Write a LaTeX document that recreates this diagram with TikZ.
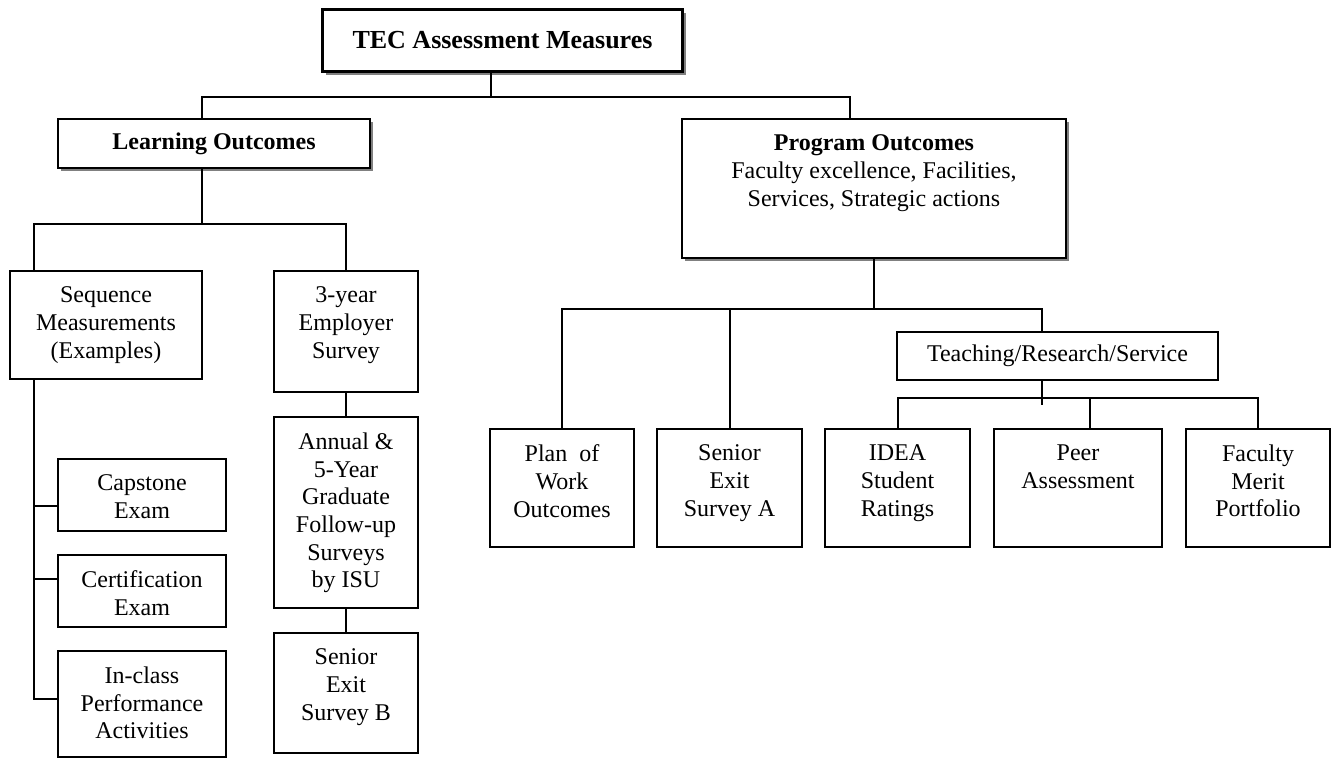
\documentclass[tikz,border=0pt]{standalone}
\usepackage{fontspec}
\setmainfont{Liberation Serif}
\usetikzlibrary{shadows}

\newcommand{\normsize}{\fontsize{12}{13.8}\selectfont}
\newcommand{\cell}[3]{\parbox[c][#2][t]{#1}{\centering\vspace*{8pt}#3}}

\begin{document}
\begin{tikzpicture}[
		x=0.5pt, y=-0.5pt,
		box/.style={draw, line width=1pt, fill=white, inner sep=0pt, anchor=north west, font=\normsize},
		shadowbox/.style={box, drop shadow={shadow xshift=1.7pt, shadow yshift=-1.7pt, fill=black!50, opacity=1}},
		link/.style={line width=1pt}
		]
		\useasboundingbox (0,0) rectangle (1335,757);
		
		% Nodes
		\node[shadowbox, line width=1.5pt, minimum width=180pt, minimum height=31pt, font=\fontsize{13}{15}\selectfont\bfseries] (tec) at (321,8) {TEC Assessment Measures};
		\node[shadowbox, minimum width=156pt, minimum height=24.5pt, font=\normsize\bfseries] (learn) at (57,118) {Learning Outcomes};
		\node[shadowbox] (prog) at (681,118) {\cell{192pt}{69.5pt}{\textbf{Program Outcomes}\\ Faculty excellence, Facilities,\\ Services, Strategic actions}};
		
		\node[box] (seq) at (9,270) {\cell{96pt}{54pt}{Sequence\\ Measurements\\ (Examples)}};
		\node[box] (emp) at (273,270) {\cell{72pt}{60.5pt}{3-year\\ Employer\\ Survey}};
		\node[box] (grad) at (273,416) {\cell{72pt}{95.5pt}{Annual \&\\ 5-Year\\ Graduate\\ Follow-up\\ Surveys\\ by ISU}};
		\node[box] (exitb) at (273,632) {\cell{72pt}{60pt}{Senior\\ Exit\\ Survey B}};
		\node[box] (cap) at (57,458) {\cell{84pt}{36pt}{Capstone\\ Exam}};
		\node[box] (cert) at (57,554) {\cell{84pt}{36pt}{Certification\\ Exam}};
		\node[box] (inclass) at (57,650) {\cell{84pt}{53pt}{In-class\\ Performance\\ Activities}};
		
		\node[box] (plan) at (489,428) {\cell{72pt}{59pt}{Plan\ \ of\\ Work\\ Outcomes}};
		\node[box] (exita) at (656,428) {\cell{72.5pt}{59pt}{Senior\\ Exit\\ Survey A}};
		\node[box, minimum width=160.5pt, minimum height=24pt] (teach) at (896,331) {Teaching/Research/Service};
		\node[box] (idea) at (824,428) {\cell{72.5pt}{59pt}{IDEA\\ Student\\ Ratings}};
		\node[box] (peer) at (993,428) {\cell{84pt}{59pt}{Peer\\ Assessment}};
		\node[box] (merit) at (1185,428) {\cell{72pt}{59pt}{Faculty\\ Merit\\ Portfolio}};
		
		% Connectors
		\draw[link] ([xshift=-6pt]tec.south) -- ++(0,24) -| ([xshift=-6pt]learn.north);
		\draw[link] ([xshift=-6pt]tec.south) -- ++(0,24) -| ([xshift=-12pt]prog.north);
		
		\draw[link] ([xshift=-6pt]learn.south) -- ++(0,55) -| ([xshift=-36pt]seq.north);
		\draw[link] ([xshift=-6pt]learn.south) -- ++(0,55) -| (emp.north);
		\draw[link] ([xshift=-36pt]seq.south) |- ([yshift=-5.5pt]cap.west);
		\draw[link] ([xshift=-36pt]seq.south) |- ([yshift=6pt]cert.west);
		\draw[link] ([xshift=-36pt]seq.south) |- ([yshift=2.5pt]inclass.west);
		\draw[link] (emp) -- (grad);
		\draw[link] (grad) -- (exitb);
		
		\draw[link] (prog.south) -- ++(0,50) -| (plan.north);
		\draw[link] (prog.south) -- ++(0,50) -| (exita.north);
		\draw[link] (prog.south) -- ++(0,50) -| ([xshift=-7.75pt]teach.north);
		\draw[link] ([xshift=-7.75pt]teach.south) -- ++(0,24);
		\draw[link] (idea.north) -- ++(0,-30) -| (merit.north);
		\draw[link] ([xshift=6pt]peer.north) -- ++(0,-30);
	\end{tikzpicture}
\end{document}
